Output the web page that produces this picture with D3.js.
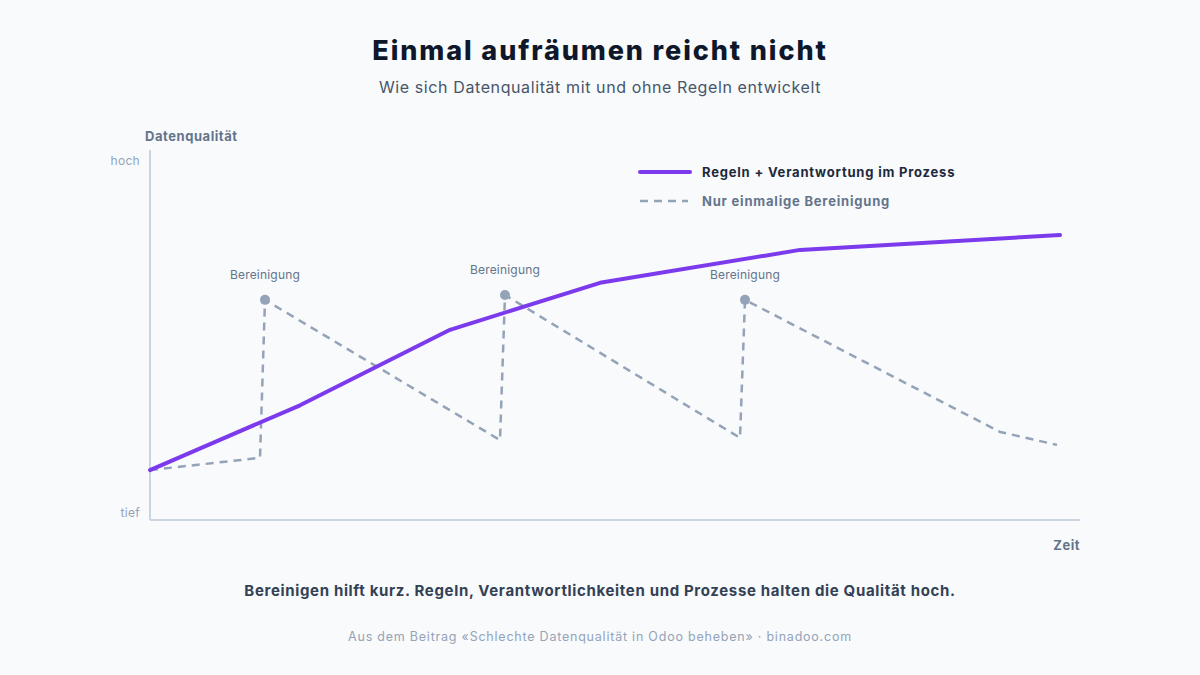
<!DOCTYPE html>
<html lang="de">
<head>
<meta charset="utf-8">
<script src="https://cdn.jsdelivr.net/npm/d3@7"></script>
<style>
  html, body { margin: 0; padding: 0; background: #f8fafc; }
  svg { display: block; font-family: Inter, "Noto Sans", sans-serif; }
</style>
</head>
<body>
<div id="chart"></div>
<script>
(function () {
  "use strict";

  // ── Daten ──────────────────────────────────────────────
  // Zeit (0..93) / Qualität (0..100)
  const ruleT = [0, 15, 30, 45, 65, 91];
  const ruleQ = [13.5, 31, 51.4, 64.1, 73, 77];

  const onceT = [0, 11, 11.5, 35, 35.5, 59, 59.5, 85, 90.7];
  const onceQ = [13.5, 16.8, 59.5, 21.6, 60.8, 22.2, 59.5, 23.8, 20.3];

  // Bereinigungs-Spitzen (Index in onceT/onceQ)
  const cleanupIdx = [2, 4, 6];
  const cleanupLabel = "Bereinigung";

  const yTickValues = [2, 97];
  const yTickLabels = ["tief", "hoch"];

  const seriesLabels = ["Regeln + Verantwortung im Prozess", "Nur einmalige Bereinigung"];

  // ── Setup ──────────────────────────────────────────────
  const width = 1200;
  const height = 675;
  const MARGIN = { top: 150, right: 120, bottom: 155, left: 150 };
  const innerWidth = width - MARGIN.left - MARGIN.right;
  const innerHeight = height - MARGIN.top - MARGIN.bottom;

  const PURPLE = "#7c3aed";
  const GREY = "#94a3b8";

  const svg = d3.select("#chart").append("svg").attr("width", width).attr("height", height);
  svg.append("rect").attr("width", width).attr("height", height).attr("fill", "#f8fafc");

  const g = svg.append("g").attr("transform", `translate(${MARGIN.left},${MARGIN.top})`);

  const x = d3.scaleLinear().domain([0, 93]).range([0, innerWidth]);
  const y = d3.scaleLinear().domain([0, 100]).range([innerHeight, 0]);

  // Titel
  svg.append("text").attr("x", width / 2).attr("y", 60).attr("text-anchor", "middle")
    .attr("font-size", "27px").attr("font-weight", 800).attr("fill", "#0f172a").attr("letter-spacing", "1.9px")
    .text("Einmal aufräumen reicht nicht");
  svg.append("text").attr("x", width / 2).attr("y", 93).attr("text-anchor", "middle")
    .attr("font-size", "16px").attr("fill", "#475569").attr("letter-spacing", "0.6px")
    .text("Wie sich Datenqualität mit und ohne Regeln entwickelt");

  // Achsen
  const yAxis = d3.axisLeft(y).tickValues(yTickValues).tickSize(0).tickPadding(10)
    .tickFormat((d, i) => yTickLabels[i]);
  const gY = g.append("g").call(yAxis);
  gY.select(".domain").remove();
  gY.selectAll("text").attr("font-size", "12px").attr("fill", "#94a3b8").attr("font-family", "Inter, sans-serif")
    .attr("letter-spacing", "0.3px");

  g.append("line").attr("x1", 0).attr("x2", 0).attr("y1", 0).attr("y2", innerHeight)
    .attr("stroke", "#cbd5e1").attr("stroke-width", 2);
  g.append("line").attr("x1", 0).attr("x2", innerWidth).attr("y1", innerHeight).attr("y2", innerHeight)
    .attr("stroke", "#cbd5e1").attr("stroke-width", 2);

  svg.append("text").attr("x", 145).attr("y", 141).attr("font-size", "13px").attr("font-weight", 700)
    .attr("fill", "#64748b").attr("letter-spacing", "0.55px").text("Datenqualität");
  svg.append("text").attr("x", MARGIN.left + innerWidth).attr("y", 550).attr("text-anchor", "end")
    .attr("font-size", "13px").attr("font-weight", 700).attr("fill", "#64748b").attr("letter-spacing", "0.5px").text("Zeit");

  // Linien
  const line = d3.line().x((d) => x(d[0])).y((d) => y(d[1]));

  g.append("path").attr("d", line(onceT.map((t, i) => [t, onceQ[i]])))
    .attr("fill", "none").attr("stroke", GREY).attr("stroke-width", 2.5)
    .attr("stroke-dasharray", "8,6").attr("stroke-linejoin", "round");

  g.append("path").attr("d", line(ruleT.map((t, i) => [t, ruleQ[i]])))
    .attr("fill", "none").attr("stroke", PURPLE).attr("stroke-width", 4)
    .attr("stroke-linecap", "round").attr("stroke-linejoin", "round");

  // Bereinigungs-Punkte
  const gClean = g.append("g");
  cleanupIdx.forEach((idx) => {
    const cx = x(onceT[idx]);
    const cy = y(onceQ[idx]);
    gClean.append("circle").attr("cx", cx).attr("cy", cy).attr("r", 5).attr("fill", GREY);
    gClean.append("text").attr("x", cx).attr("y", cy - 21).attr("text-anchor", "middle")
      .attr("font-size", "12px").attr("fill", "#64748b").attr("letter-spacing", "0.2px").text(cleanupLabel);
  });

  // Legende
  const gLeg = svg.append("g").attr("transform", "translate(638,172)");
  gLeg.append("line").attr("x1", 2).attr("x2", 52).attr("y1", 0).attr("y2", 0)
    .attr("stroke", PURPLE).attr("stroke-width", 4).attr("stroke-linecap", "round");
  gLeg.append("text").attr("x", 64).attr("y", 5).attr("font-size", "13px").attr("font-weight", 700)
    .attr("fill", "#1e293b").attr("letter-spacing", "0.8px").text(seriesLabels[0]);
  gLeg.append("line").attr("x1", 2).attr("x2", 50).attr("y1", 29).attr("y2", 29)
    .attr("stroke", GREY).attr("stroke-width", 2.5).attr("stroke-dasharray", "8,6");
  gLeg.append("text").attr("x", 64).attr("y", 34).attr("font-size", "13px").attr("font-weight", 700)
    .attr("fill", "#64748b").attr("letter-spacing", "0.8px").text(seriesLabels[1]);

  // Fußzeilen
  svg.append("text").attr("x", width / 2).attr("y", 596).attr("text-anchor", "middle")
    .attr("font-size", "15px").attr("font-weight", 700).attr("fill", "#334155").attr("letter-spacing", "0.66px")
    .text("Bereinigen hilft kurz. Regeln, Verantwortlichkeiten und Prozesse halten die Qualität hoch.");
  svg.append("text").attr("x", width / 2).attr("y", 641).attr("text-anchor", "middle")
    .attr("font-size", "12.5px").attr("fill", "#94a3b8").attr("letter-spacing", "0.78px")
    .text("Aus dem Beitrag «Schlechte Datenqualität in Odoo beheben» · binadoo.com");
})();
</script>
</body>
</html>
